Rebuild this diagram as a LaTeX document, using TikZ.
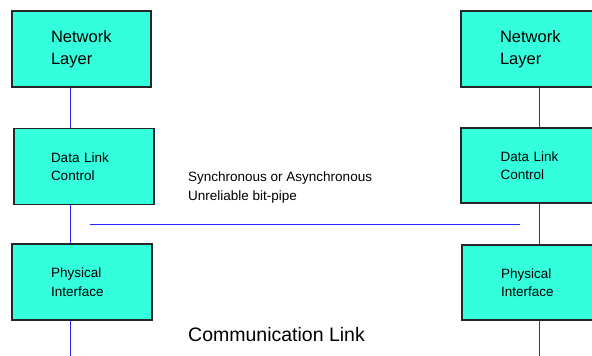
\documentclass[tikz,border=0pt]{standalone}
\usepackage{fontspec}
\setmainfont{Liberation Sans}
\usetikzlibrary{positioning}
\definecolor{layerfill}{RGB}{51,255,221}
\definecolor{linkblue}{RGB}{40,40,255}
\tikzset{
  layerbox/.style={draw=black!85, line width=1.3pt, rectangle, fill=layerfill, align=left,
    inner xsep=0pt, text width=62pt, minimum width=140pt, minimum height=76pt},
  biglayer/.style={font=\fontsize{16.5}{22}\selectfont},
  smalllayer/.style={font=\fontsize{13.5}{18.5}\selectfont},
  linkline/.style={draw=linkblue, line width=1pt}
}
\begin{document}
\begin{tikzpicture}[x=1pt, y=-1pt]
            \useasboundingbox (0,0) rectangle (592,356);
            \clip (0,0) rectangle (592,356);
            % Left protocol stack
            \node[layerbox, biglayer, text width=61pt, minimum width=139pt] (netL) at (81.5,49) {Network\\Layer};
            \node[layerbox, smalllayer, text width=66pt] (dlcL) at (84,166.5) {Data Link\\Control};
            \node[layerbox, smalllayer] (phyL) at (82,282) {Physical\\Interface};
            % Right protocol stack
            \node[layerbox, biglayer] (netR) at (531,49) {Network\\Layer};
            \node[layerbox, smalllayer, text width=61pt, minimum height=75pt] (dlcR) at (531,165.5) {Data Link\\Control};
            \node[layerbox, smalllayer, minimum height=75pt] (phyR) at (532,282.5) {Physical\\Interface};
            
            \coordinate (linkL) at (70,356);
            \coordinate (linkR) at (539,356);
            \draw[linkline] (netL.south -| linkL) -- (dlcL.north -| linkL);
            \draw[linkline] (dlcL.south -| linkL) -- (phyL.north -| linkL);
            \draw[linkline] (phyL.south -| linkL) -- (linkL);
            \draw[linkline] (netR.south -| linkR) -- (dlcR.north -| linkR);
            \draw[linkline] (dlcR.south -| linkR) -- (phyR.north -| linkR);
            \draw[linkline] (phyR.south -| linkR) -- (linkR);
            
            % Bit-pipe between the data link controls
            \coordinate (pipeL) at (90,224);
            \coordinate (pipeR) at (520,224);
            \draw[linkline] (pipeL) -- (pipeR);
            \node[anchor=base west, inner sep=0pt, align=left, font=\fontsize{13.5}{18.3}\selectfont] (pipe) at (188,200) {Synchronous or Asynchronous\\Unreliable bit-pipe};
            
            \node[anchor=base west, inner sep=0pt, font=\fontsize{19.5}{24}\selectfont] (comm) at (188,341) {Communication Link};
        \end{tikzpicture}
\end{document}
